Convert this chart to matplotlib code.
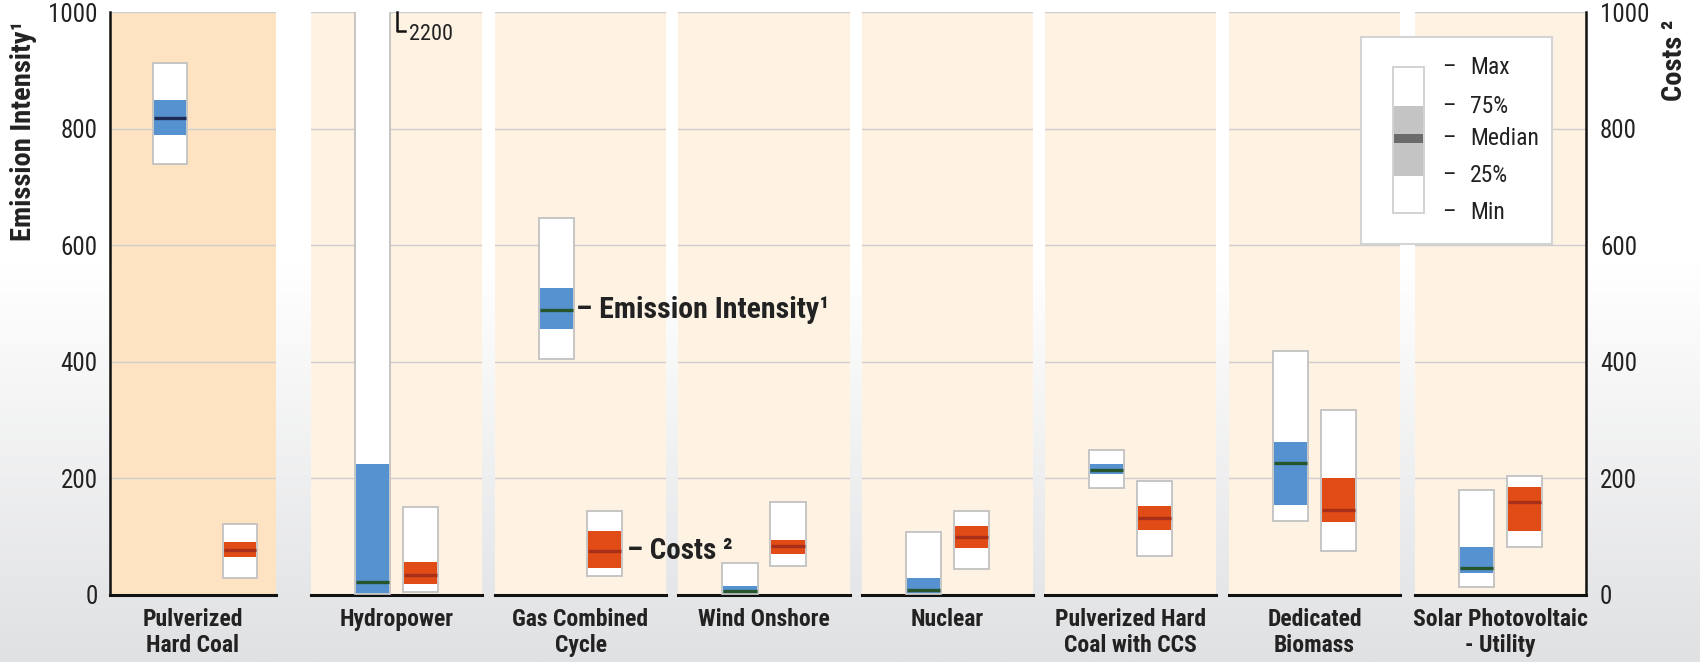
import os
import numpy as np
import matplotlib
matplotlib.use("Agg")
import matplotlib.pyplot as plt
from matplotlib import font_manager
from matplotlib.font_manager import FontProperties
from matplotlib.colors import LinearSegmentedColormap
from matplotlib.transforms import blended_transform_factory

# data
categories = ["Pulverized\nHard Coal", "Hydropower", "Gas Combined\nCycle", "Wind Onshore",
              "Nuclear", "Pulverized Hard\nCoal with CCS", "Dedicated\nBiomass",
              "Solar Photovoltaic\n- Utility"]
ei_min = [740, 2, 405, 2, 1, 183, 127, 14]
ei_q1 = [790, 4, 457, 4, 3, 207, 155, 38]
ei_med = [818, 22, 489, 7, 8, 215, 226, 47]
ei_q3 = [850, 224, 526, 15, 30, 224, 263, 82]
ei_max = [913, 2200, 647, 55, 108, 248, 418, 181]
cost_min = [30, 5, 32, 50, 45, 67, 75, 82]
cost_q1 = [65, 19, 47, 71, 80, 112, 125, 110]
cost_med = [78, 34, 76, 84, 99, 132, 146, 159]
cost_q3 = [91, 56, 110, 95, 118, 153, 201, 185]
cost_max = [121, 151, 144, 159, 144, 196, 317, 205]
yticks = [0, 200, 400, 600, 800, 1000]


# pick a condensed face if one is installed
def find_narrow(bold):
    prefs = ['liberation sans narrow', 'roboto condensed', 'noto sans', 'open sans', 'dejavu sans']
    found = {}
    for f in font_manager.fontManager.ttflist:
        base = os.path.basename(f.fname).lower()
        if not ('narrow' in base or 'condensed' in base):
            continue
        if any(k in base for k in ['semi', 'extra', 'ultra', 'italic', 'oblique', 'light', 'medium', 'black', 'thin']):
            continue
        w = f.weight if isinstance(f.weight, int) else (700 if 'bold' in str(f.weight) else 400)
        if ('bold' in base) != bold or (w >= 600) != bold:
            continue
        found.setdefault(f.name.lower(), f.fname)
    for p in prefs:
        for name, path in found.items():
            if name.startswith(p):
                return path
    return None


reg_path, bold_path = find_narrow(False), find_narrow(True)


def fp(size, bold=False):
    path = bold_path if bold else reg_path
    if path:
        return FontProperties(fname=path, size=size)
    return FontProperties(family='Liberation Sans', size=size * 0.85,
                          weight='bold' if bold else 'normal')


# layout (pixels of a 1700x662 canvas)
W, H = 1700, 662
y_top, y_bot = 12.3, 595
panel_left = [110, 311, 495, 678, 862, 1045, 1229, 1415]
panel_w = [166, 171, 171, 172, 171, 171, 171, 171]
ei_x = [0.36] * 8
cost_x = [0.785] + [0.64] * 7
box_w = 0.205

BLUE = '#5592cf'
RED = '#e04b16'
EDGE = '#c2c2c2'
TXT = '#222222'

fig = plt.figure(figsize=(W / 100, H / 100), dpi=100)

# background gradient
bg = fig.add_axes([0, 0, 1, 1], zorder=-10)
cmap = LinearSegmentedColormap.from_list('bg', [(0, 'white'), (0.4, 'white'), (1, '#e0e1e3')])
bg.imshow(np.linspace(0, 1, 256)[:, None], aspect='auto', cmap=cmap, extent=[0, 1, 0, 1])
bg.axis('off')


def draw_box(ax, x, lo, q1, med, q3, hi, color, med_color):
    ax.bar(x, hi - lo, bottom=lo, width=box_w, color='white', edgecolor=EDGE, linewidth=1.3, zorder=3)
    ax.bar(x, q3 - q1, bottom=q1, width=box_w - 0.012, color=color, linewidth=0, zorder=4)
    ax.plot([x - box_w / 2 + 0.006, x + box_w / 2 - 0.006], [med, med], color=med_color, lw=2.4,
            zorder=5, solid_capstyle='butt')


axes = []
for i, cat in enumerate(categories):
    ax = fig.add_axes([panel_left[i] / W, 1 - y_bot / H, panel_w[i] / W, (y_bot - y_top) / H])
    ax.set_facecolor('#fee3c3' if i == 0 else '#fef3e3')
    ax.set_xlim(0, 1)
    ax.set_ylim(0, 1000)
    ax.set_yticks(yticks)
    ax.set_xticks([])
    ax.grid(axis='y', color='#cdcdcd', lw=1.0)
    ax.set_axisbelow(True)
    for s in ['top', 'left', 'right']:
        ax.spines[s].set_visible(False)
    ax.spines['bottom'].set_linewidth(2.2)
    ax.spines['bottom'].set_color('#111111')
    ax.tick_params(axis='y', length=0, labelleft=False)
    med_col = '#1c2c55' if i == 0 else '#27552c'
    draw_box(ax, ei_x[i], ei_min[i], ei_q1[i], ei_med[i], ei_q3[i], ei_max[i], BLUE, med_col)
    draw_box(ax, cost_x[i], cost_min[i], cost_q1[i], cost_med[i], cost_q3[i], cost_max[i], RED, '#a8301a')
    ax.text(0.5, -0.022, cat, transform=ax.transAxes, ha='center', va='top',
            fontproperties=fp(17, True), color=TXT, linespacing=1.15)
    axes.append(ax)

# left axis
a0 = axes[0]
a0.spines['left'].set_visible(True)
a0.spines['left'].set_linewidth(1.8)
a0.spines['left'].set_color('#111111')
a0.tick_params(axis='y', labelleft=True, pad=9, labelcolor=TXT)
for lbl in a0.get_yticklabels():
    lbl.set_fontproperties(fp(18))

# right axis
a7 = axes[-1]
a7.spines['right'].set_visible(True)
a7.spines['right'].set_linewidth(1.8)
a7.spines['right'].set_color('#111111')
a7.yaxis.set_ticks_position('right')
a7.tick_params(axis='y', labelright=True, pad=10, labelcolor=TXT, length=0)
for lbl in a7.get_yticklabels():
    lbl.set_fontproperties(fp(18))

fig.text(24 / W, 1 - 131 / H, 'Emission Intensity¹', rotation=90, ha='center', va='center',
         fontproperties=fp(20.5, True), color=TXT)
fig.text(1675 / W, 1 - 60 / H, 'Costs ²', rotation=90, ha='center', va='center',
         fontproperties=fp(20.5, True), color=TXT)

# hydropower off-scale maximum
ah = axes[1]
ah.plot([0.505, 0.505, 0.55], [1000, 968, 968], color='#111111', lw=1.8, clip_on=False, zorder=6)
ah.text(0.575, 962, str(ei_max[1]), fontproperties=fp(16), color=TXT, va='center', ha='left')

# series annotations on gas panel
ag = axes[2]
tr = blended_transform_factory(ag.transAxes, ag.transData)
fig.text(0.475, ei_med[2], '– Emission Intensity¹', transform=tr, fontproperties=fp(21.5, True),
         color=TXT, va='center', ha='left')
fig.text(0.77, cost_med[2], '– Costs ²', transform=tr, fontproperties=fp(21, True),
         color=TXT, va='center', ha='left')

# legend key
lg = fig.add_axes([1361 / W, 1 - 244 / H, 191 / W, 207 / H], zorder=10)
lg.set_xlim(0, 1)
lg.set_ylim(0, 1)
lg.set_xticks([])
lg.set_yticks([])
lg.set_facecolor('white')
for s in lg.spines.values():
    s.set_color('#d4d4d4')
    s.set_linewidth(1.5)
key_levels = [0.15, 0.33, 0.51, 0.665, 0.855]
key_names = ['Min', '25%', 'Median', '75%', 'Max']
kx, kw = 0.25, 0.16
lg.bar(kx, key_levels[4] - key_levels[0], bottom=key_levels[0], width=kw, color='white',
       edgecolor='#cfcfcf', linewidth=1.3)
lg.bar(kx, key_levels[3] - key_levels[1], bottom=key_levels[1], width=kw - 0.01, color='#c4c4c4', linewidth=0)
lg.bar(kx, 0.045, bottom=key_levels[2] - 0.0225, width=kw - 0.01, color='#6b6b6b', linewidth=0)
for lv, nm in zip(key_levels, key_names):
    lg.text(0.425, lv, '–', fontproperties=fp(17), color=TXT, va='center', ha='left')
    lg.text(0.57, lv, nm, fontproperties=fp(17), color=TXT, va='center', ha='left')

fig.savefig('out.png', dpi=100)
